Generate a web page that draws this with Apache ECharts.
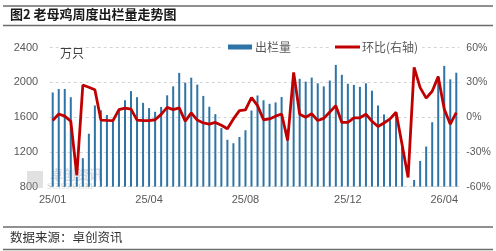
<!DOCTYPE html>
<html>
<head>
<meta charset="utf-8">
<script src="https://cdn.jsdelivr.net/npm/echarts@6/dist/echarts.min.js"></script>
<style>
  html, body { margin: 0; padding: 0; background: #fff; }
  #chart { width: 496px; height: 251px; }
</style>
</head>
<body>
<div id="chart"></div>
<script>
// Weekly categories (68 weeks, 2025/01 .. 2026/04)
const categories = [];
for (let i = 0; i < 68; i++) categories.push('W' + (i + 1));

// Tick labels shown on the category axis and the week they sit under
const tickLabels = ['25/01', '25/04', '25/08', '25/12', '26/04'];
const tickIndex = [0, 16, 32, 49, 65];

// 出栏量 (万只)
const output = [
  1885, 1925, 1925, 1830, 915, 1128, 1410, 1735, 1680, 1625,
  1575, 1690, 1795, 1900, 1830, 1765, 1705, 1662, 1718, 1852,
  1955, 2110, 1998, 2055, 1975, 1845, 1720, 1635, 1475, 1340,
  1300, 1372, 1450, 1677, 1850, 1795, 1754, 1770, 1832, 1462,
  2030, 2042, 2010, 2056, 1990, 1955, 2022, 2202, 2088, 1985,
  1972, 1950, 1990, 1905, 1735, 1632, 1566, 1636, 1262, 605,
  878, 1097, 1262, 1542, 2075, 2190, 2036, 2112
];

// 环比 (%), right axis
const change = [
  -2.9, 2.8, 0.9, -3.5, -50.2, 27.8, 25.8, 23.7, -2.5, -2.8,
  -3.0, 6.5, 7.8, 7.0, -2.5, -3.0, -3.0, -2.2, 2.4, 8.5,
  6.5, 8.0, -3.5, 3.7, -2.5, -5.0, -6.0, -4.5, -7.0, -10.0,
  -1.5, 5.7, 6.3, 17.0, 10.0, -2.2, -1.5, 0.9, 2.8, -20.0,
  38.7, 2.5, 0.0, 3.0, -2.9, -1.0, 4.5, 10.0, -4.5, -4.5,
  -0.5, -0.5, 2.6, -3.5, -8.0, -5.0, -1.5, 4.3, -23.5, -52.0,
  43.0, 25.5, 16.5, 22.4, 35.0, 7.0, -6.0, 4.0
];

const chart = echarts.init(document.getElementById('chart'), null, { renderer: 'canvas' });
const labelColor = '#595959';
const font = '"Liberation Sans", Arial, sans-serif';
const cjk = '"Noto Sans CJK SC", sans-serif';

chart.setOption({
  animation: false,
  backgroundColor: '#fff',
  grid: { left: 49.7, right: 36.7, top: 47.7, bottom: 64.3, containLabel: false },
  legend: [
    {
      data: [{ name: '出栏量', icon: 'rect' }],
      left: 224, top: 39, itemWidth: 24, itemHeight: 5, itemGap: 0,
      padding: [2, 4, 2, 4],
      backgroundColor: '#fff',
      textStyle: { color: labelColor, fontSize: 12, fontFamily: cjk, padding: [0, 0, 0, -2] }
    },
    {
      data: [{ name: '环比(右轴)', icon: 'rect' }],
      left: 331, top: 39, itemWidth: 25, itemHeight: 3, itemGap: 0,
      padding: [2, 4, 2, 4],
      backgroundColor: '#fff',
      textStyle: { color: labelColor, fontSize: 12, fontFamily: cjk, padding: [0, 0, 0, -3] }
    }
  ],
  xAxis: {
    type: 'category',
    data: categories,
    boundaryGap: true,
    axisLine: { show: false },
    axisTick: { show: false },
    axisLabel: {
      interval: (idx) => tickIndex.indexOf(idx) >= 0,
      formatter: (v, idx) => {
        const k = tickIndex.indexOf(idx);
        return k >= 0 ? tickLabels[k] : '';
      },
      color: labelColor, fontSize: 11, fontFamily: font, margin: 8
    },
    splitLine: { show: false }
  },
  yAxis: [
    {
      type: 'value', min: 800, max: 2400, interval: 400,
      axisLine: { show: false }, axisTick: { show: false },
      axisLabel: { color: labelColor, fontSize: 11, fontFamily: font, margin: 11.5, formatter: (v) => String(v) },
      splitLine: { show: true, lineStyle: { color: '#D4D4D4', type: [3, 3], width: 1 } }
    },
    {
      type: 'value', min: -60, max: 60, interval: 30,
      axisLine: { show: false }, axisTick: { show: false },
      axisLabel: { color: labelColor, fontSize: 10.5, fontFamily: font, margin: 7, formatter: '{value}%' },
      splitLine: { show: false }
    }
  ],
  series: [
    {
      name: '出栏量', type: 'bar', yAxisIndex: 0, data: output,
      barWidth: 2, itemStyle: { color: '#2E74A6' }, z: 2
    },
    {
      name: '环比(右轴)', type: 'line', yAxisIndex: 1, data: change,
      showSymbol: false, symbol: 'none',
      lineStyle: { color: '#C00000', width: 2.8 }, itemStyle: { color: '#C00000' }, z: 3
    }
  ],
  graphic: [
    { type: 'line', shape: { x1: 3, y1: 6, x2: 493, y2: 6 }, style: { stroke: '#6b6b6b', lineWidth: 1.5 } },
    { type: 'text', left: 10, top: 8, style: { text: '图2 老母鸡周度出栏量走势图', fill: '#1a1a1a', font: 'bold 13px "Noto Sans CJK SC", sans-serif' } },
    { type: 'line', shape: { x1: 3, y1: 25.5, x2: 493, y2: 25.5 }, style: { stroke: '#6b6b6b', lineWidth: 1.5 } },
    { type: 'text', left: 60, top: 47, style: { text: '万只', fill: '#404040', font: '12px "Noto Sans CJK SC", sans-serif' } },
    { type: 'rect', shape: { x: 27, y: 171, width: 16, height: 17 }, style: { fill: 'rgba(170,170,170,0.35)' }, z: 1 },
    { type: 'text', left: 50, top: 168, style: { text: '卓创资讯', fill: 'rgba(160,170,190,0.45)', font: 'bold 13px "Noto Sans CJK SC", sans-serif' }, z: 1 },
    { type: 'text', left: 47, top: 182, style: { text: 'SCI99.COM', fill: 'rgba(160,160,160,0.45)', font: '9px "Liberation Serif", serif' }, z: 1 },
    { type: 'line', shape: { x1: 3, y1: 227, x2: 493, y2: 227 }, style: { stroke: '#6b6b6b', lineWidth: 1.5 } },
    { type: 'text', left: 10, top: 231, style: { text: '数据来源：卓创资讯', fill: '#333', font: '12.5px "Noto Sans CJK SC", sans-serif' } },
    { type: 'line', shape: { x1: 3, y1: 249.5, x2: 493, y2: 249.5 }, style: { stroke: '#6b6b6b', lineWidth: 1.5 } }
  ]
});
</script>
</body>
</html>
